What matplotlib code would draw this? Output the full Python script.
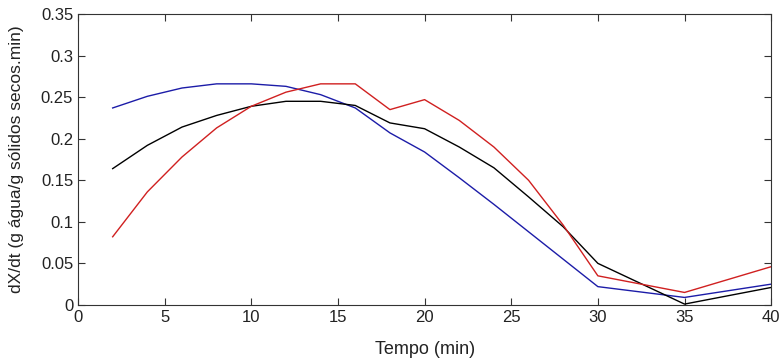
import matplotlib
matplotlib.use('Agg')
import matplotlib.pyplot as plt

t = [2, 4, 6, 8, 10, 12, 14, 16, 18, 20, 22, 24, 26, 28, 30, 35, 40]

azul = [0.237, 0.251, 0.261, 0.266, 0.266, 0.263, 0.253, 0.237, 0.207, 0.184,
        0.153, 0.121, 0.088, 0.055, 0.022, 0.009, 0.025]
preto = [0.164, 0.192, 0.214, 0.228, 0.239, 0.245, 0.245, 0.240, 0.219, 0.212,
         0.190, 0.165, 0.130, 0.094, 0.050, 0.001, 0.021]
vermelho = [0.082, 0.136, 0.178, 0.213, 0.239, 0.256, 0.266, 0.266, 0.235, 0.247,
            0.222, 0.190, 0.150, 0.096, 0.035, 0.015, 0.046]

plt.rcParams['font.family'] = ['Liberation Sans', 'DejaVu Sans']

fig = plt.figure(figsize=(7.81, 3.6), dpi=100)
ax = fig.add_axes([0.0999, 0.153, 0.8875, 0.808])

ax.plot(t, azul, color='#1c1ca8', lw=1)
ax.plot(t, preto, color='black', lw=1)
ax.plot(t, vermelho, color='#d02020', lw=1)

ax.set_xlim(0, 40)
ax.set_ylim(0, 0.35)
ax.set_xticks(range(0, 41, 5))
ax.set_yticks([0, 0.05, 0.1, 0.15, 0.2, 0.25, 0.3, 0.35])
ax.set_yticklabels(['0', '0.05', '0.1', '0.15', '0.2', '0.25', '0.3', '0.35'])
ax.tick_params(direction='in', top=True, right=True, labelsize=12, length=5,
               colors='#333333', labelcolor='#222222')
for s in ax.spines.values():
    s.set_color('#333333')
ax.set_xlabel('Tempo (min)', fontsize=13, color='#222222', labelpad=12)
ax.set_ylabel('dX/dt (g água/g sólidos secos.min)', fontsize=12.5,
              color='#222222', labelpad=12)

plt.savefig('out.png')
